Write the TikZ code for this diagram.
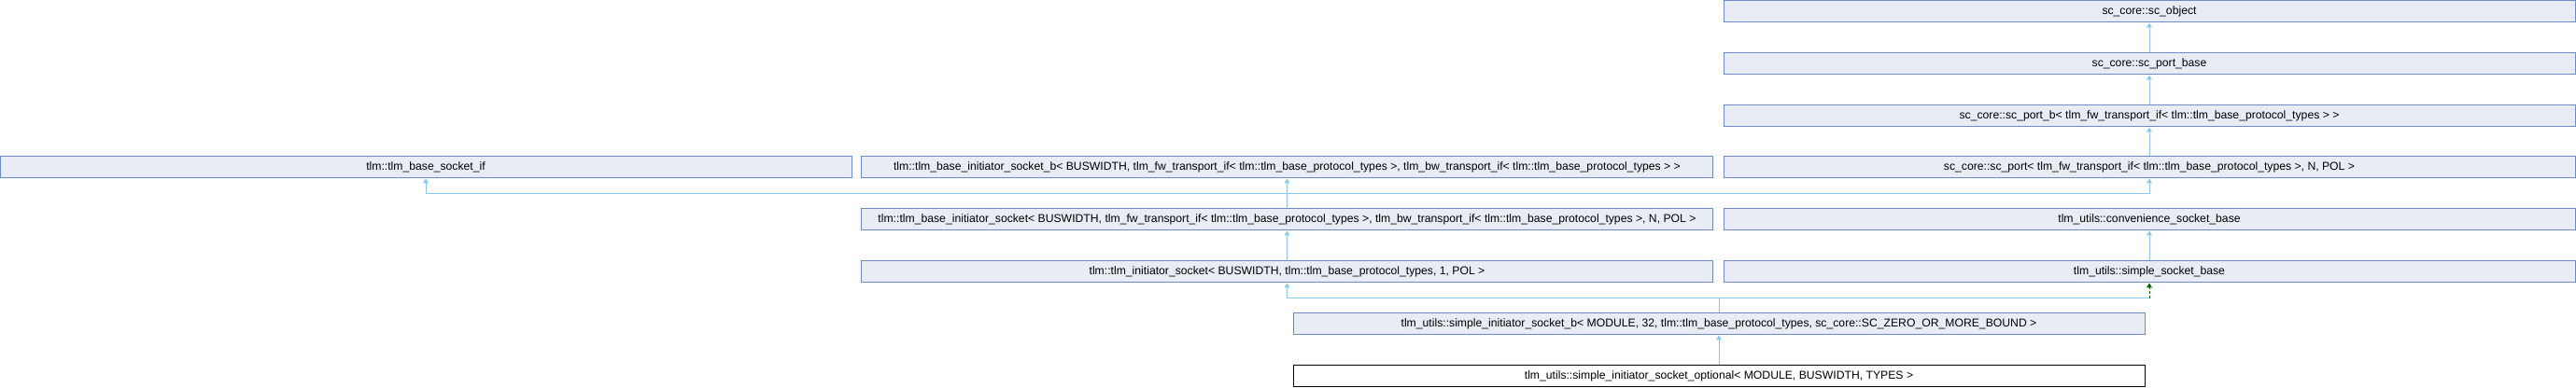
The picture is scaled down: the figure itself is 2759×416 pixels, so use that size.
\documentclass[tikz,border=0pt]{standalone}
\usepackage{fontspec}
\setmainfont{Liberation Sans}
\usetikzlibrary{arrows.meta}
\definecolor{boxfill}{RGB}{232,236,245}
\definecolor{boxline}{RGB}{110,139,200}
\definecolor{inhcol}{RGB}{140,200,232}
\definecolor{protcol}{RGB}{0,100,0}

\begin{document}
\begin{tikzpicture}[x=0.5pt,y=-0.5pt,
    cls/.style={draw=boxline,fill=boxfill,line width=0.5pt,minimum width=456pt,minimum height=11.5pt,inner sep=0pt,font=\fontsize{6.1}{7}\selectfont},
    leaf/.style={cls,draw=black,fill=white},
    link/.style={inhcol,line width=0.5pt},
    inh/.style={link,-{Triangle[length=2.5pt,width=3pt]}},
    prot/.style={protcol,line width=0.5pt,dashed,dash pattern=on 1.5pt off 1pt,-{Triangle[length=2.5pt,width=3pt]}}]
            \useasboundingbox (0,0) rectangle (2759,416);
            \node[cls] (object) at (2302,12.5) {sc\_core::sc\_object};
            \node[cls] (portbase) at (2302,68.5) {sc\_core::sc\_port\_base};
            \node[cls] (portb) at (2302,124.5) {sc\_core::sc\_port\_b< tlm\_fw\_transport\_if< tlm::tlm\_base\_protocol\_types > >};
            \node[cls] (sockif) at (456,179.5) {tlm::tlm\_base\_socket\_if};
            \node[cls] (basesockb) at (1378.5,179.5) {tlm::tlm\_base\_initiator\_socket\_b< BUSWIDTH, tlm\_fw\_transport\_if< tlm::tlm\_base\_protocol\_types >, tlm\_bw\_transport\_if< tlm::tlm\_base\_protocol\_types > >};
            \node[cls] (port) at (2302,179.5) {sc\_core::sc\_port< tlm\_fw\_transport\_if< tlm::tlm\_base\_protocol\_types >, N, POL >};
            \node[cls] (basesock) at (1378.5,235.5) {tlm::tlm\_base\_initiator\_socket< BUSWIDTH, tlm\_fw\_transport\_if< tlm::tlm\_base\_protocol\_types >, tlm\_bw\_transport\_if< tlm::tlm\_base\_protocol\_types >, N, POL >};
            \node[cls] (convbase) at (2302,235.5) {tlm\_utils::convenience\_socket\_base};
            \node[cls] (initsock) at (1378.5,291.5) {tlm::tlm\_initiator\_socket< BUSWIDTH, tlm::tlm\_base\_protocol\_types, 1, POL >};
            \node[cls] (simplebase) at (2302,291.5) {tlm\_utils::simple\_socket\_base};
            \node[cls] (simplesockb) at (1841,347.5) {tlm\_utils::simple\_initiator\_socket\_b< MODULE, 32, tlm::tlm\_base\_protocol\_types, sc\_core::SC\_ZERO\_OR\_MORE\_BOUND >};
            \node[leaf] (optional) at (1841,403.5) {tlm\_utils::simple\_initiator\_socket\_optional< MODULE, BUSWIDTH, TYPES >};
            % inheritance links
            \draw[inh] (portbase.north)--(object.south);
            \draw[inh] (portb.north)--(portbase.south);
            \draw[inh] (port.north)--(portb.south);
            \coordinate (join1) at (1378.5,208);
            \draw[inh] (basesock.north)--(basesockb.south);
            \draw[inh] (join1)-|(sockif.south);
            \draw[inh] (join1)-|(port.south);
            \draw[inh] (initsock.north)--(basesock.south);
            \draw[inh] (simplebase.north)--(convbase.south);
            \coordinate (join2) at (1841,320);
            \coordinate (join3) at (2302,320);
            \draw[inh] (simplesockb.north)--(join2)-|(initsock.south);
            \draw[link] (join2)--(join3);
            \draw[prot] (join3)--(simplebase.south);
            \draw[inh] (optional.north)--(simplesockb.south);
        \end{tikzpicture}
\end{document}
